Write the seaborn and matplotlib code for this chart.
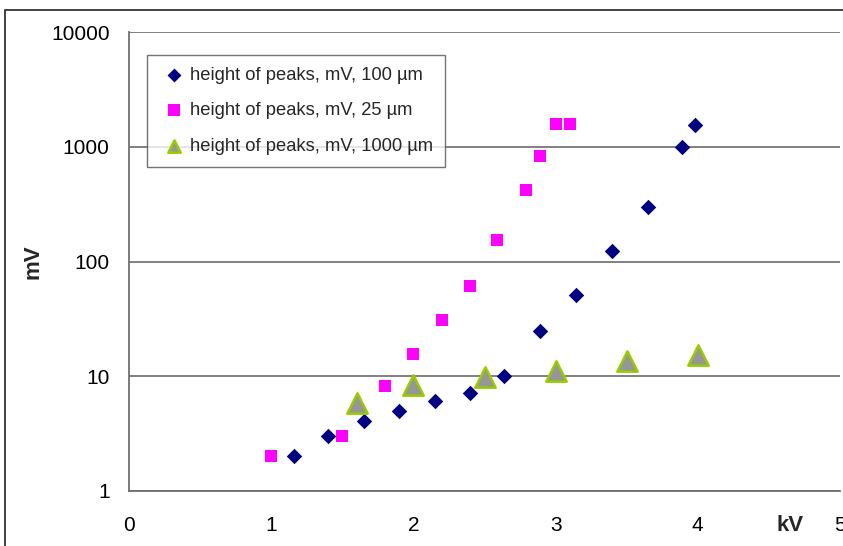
import matplotlib
matplotlib.use("Agg")
import matplotlib.pyplot as plt
import matplotlib.patches as mpatches
import seaborn as sns
import pandas as pd
import numpy as np

# ---- data ----
kv_100 = [1.16, 1.40, 1.65, 1.90, 2.15, 2.40, 2.64, 2.89, 3.14, 3.40, 3.65, 3.89, 3.98]
mv_100 = [2.0, 3.0, 4.1, 5.0, 6.1, 7.2, 10.0, 25.0, 51.0, 124.0, 300.0, 1000.0, 1550.0]

kv_25 = [1.0, 1.5, 1.8, 2.0, 2.2, 2.4, 2.59, 2.79, 2.89, 3.0, 3.1]
mv_25 = [2.0, 3.0, 8.3, 15.7, 31.0, 61.0, 154.0, 420.0, 830.0, 1580.0, 1580.0]

kv_1000 = [1.6, 2.0, 2.5, 3.0, 3.5, 4.0]
mv_1000 = [5.9, 8.4, 9.9, 11.1, 13.7, 15.4]

labels = ["height of peaks, mV, 100 µm",
          "height of peaks, mV, 25 µm",
          "height of peaks, mV, 1000 µm"]
x_ticks = [0, 1, 2, 3, 4, 5]
y_ticks = [1, 10, 100, 1000, 10000]
y_ticklabels = ["1", "10", "100", "1000", "10000"]

df100 = pd.DataFrame({"kV": kv_100, "mV": mv_100})
df25 = pd.DataFrame({"kV": kv_25, "mV": mv_25})
df1000 = pd.DataFrame({"kV": kv_1000, "mV": mv_1000})

sns.set_theme(style="white")
plt.rcParams["font.family"] = ["Liberation Sans", "DejaVu Sans"]

W, H = 843, 546
fig = plt.figure(figsize=(W / 100, H / 100), dpi=100)
ax = fig.add_axes([129 / W, 1 - 491 / H, (840 - 129) / W, (491 - 32) / H])

ax.set_yscale("log")
ax.set_xlim(0, 5)
ax.set_ylim(1, 10000)

for y in y_ticks:
    ax.axhline(y, color="#808080", lw=1.4, zorder=1)

sns.scatterplot(data=df100, x="kV", y="mV", ax=ax, marker="D", s=62,
                color="#000080", linewidth=0, label=labels[0], zorder=3)
sns.scatterplot(data=df25, x="kV", y="mV", ax=ax, marker="s", s=76,
                color="#FF00FF", linewidth=0, label=labels[1], zorder=3)
sns.scatterplot(data=df1000, x="kV", y="mV", ax=ax, marker="^", s=215,
                color="#969696", edgecolor="#99CC00", linewidth=1.8,
                label=labels[2], zorder=4)

ax.set_xticks(x_ticks)
ax.set_xticklabels([str(t) for t in x_ticks], fontsize=15, color="black")
ax.set_yticks(y_ticks)
ax.set_yticklabels(y_ticklabels, fontsize=15, color="black")
ax.yaxis.set_minor_locator(matplotlib.ticker.NullLocator())
ax.tick_params(axis="both", which="major", direction="out", length=6,
               width=1.2, color="#606060", pad=8)
ax.tick_params(axis="x", pad=12)

for side in ["top", "right"]:
    ax.spines[side].set_visible(False)
for side in ["left", "bottom"]:
    ax.spines[side].set_color("#707070")
    ax.spines[side].set_linewidth(1.3)

ax.set_xlabel("kV", fontsize=16, fontweight="bold")
ax.xaxis.set_label_coords(0.93, -0.052)
ax.xaxis.label.set_verticalalignment("top")
ax.set_ylabel("mV", fontsize=16, fontweight="bold")
ax.yaxis.set_label_coords(-0.12, 0.5)

leg = ax.legend(loc="upper left", bbox_to_anchor=(147 / W, 1 - 55 / H),
                bbox_transform=fig.transFigure, fontsize=13.2,
                frameon=True, fancybox=False, edgecolor="#505050",
                borderpad=0.65, labelspacing=1.0, handletextpad=0.05,
                handlelength=1.65, borderaxespad=0)
leg.get_frame().set_linewidth(1.0)
sizes = [50, 65, 80]
for h, s in zip(leg.legend_handles, sizes):
    h.set_sizes([s])

# figure border (partially visible frame)
fig.patches.append(mpatches.Rectangle((5 / W, -0.1), 1.2, 1.1 - 10 / H,
                                      transform=fig.transFigure, fill=False,
                                      edgecolor="#222222", linewidth=1.2))

fig.savefig("out.png", dpi=100)
